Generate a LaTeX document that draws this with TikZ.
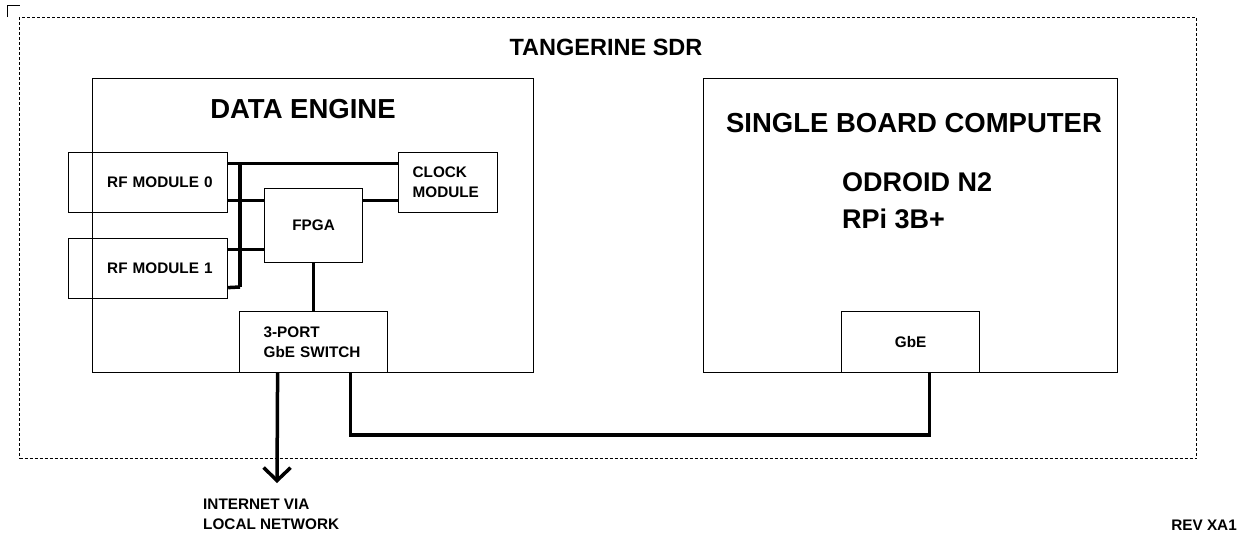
\documentclass[tikz,border=0pt]{standalone}
\usepackage{fontspec}
\setmainfont{Liberation Sans}
\usepackage{tikz}
\usetikzlibrary{arrows.meta, positioning, calc}
\tikzset{
  % Dashed outline round the whole unit
  sdrframe/.style={
    rectangle, draw, line width=1pt, dash pattern=on 3pt off 2pt,
    anchor=north west, inner sep=0pt
  },
  % Plain block, size given where it is used
  blk/.style={
    rectangle, draw, line width=1.2pt,
    anchor=north west, inner sep=0pt,
    font=\fontsize{15.3}{20}\selectfont\bfseries
  },
  head/.style={font=\fontsize{27.5}{36}\selectfont\bfseries, inner sep=0pt, anchor=base},
  note/.style={font=\fontsize{15.3}{20}\selectfont\bfseries, inner sep=0pt, align=left},
  % Thick wiring
  bus/.style={line width=3.5pt, line join=miter},
  net/.style={line width=3.5pt, -{Straight Barb[length=13pt, width=27pt]}}
}
\begin{document}
\begin{tikzpicture}[x=1pt, y=-1pt]
  \useasboundingbox (0,0) rectangle (1239,541);

  \draw[line width=1pt] (7,17) -- (7,5) -- (20,5);

  %% ── Tangerine SDR ──────────────────────────────────────────────────────
  \node[sdrframe, minimum width=1177pt, minimum height=441pt] (sdr) at (19,17) {};
  \node[head, font=\fontsize{23.5}{28}\selectfont\bfseries] (sdrtitle) at (606,55) {TANGERINE SDR};

  %% ── Data engine ────────────────────────────────────────────────────────
  \node[blk, minimum width=441pt, minimum height=294pt] (de) at (92,78) {};
  \node[head] (detitle) at (303,118) {DATA ENGINE};

  \node[blk, minimum width=159pt, minimum height=60pt, text width=129pt, inner xsep=15pt, align=right]
    (rf0) at (68,152) {RF MODULE 0};
  \node[blk, minimum width=159pt, minimum height=60pt, text width=129pt, inner xsep=15pt, align=right]
    (rf1) at (68,238) {RF MODULE 1};
  \node[blk, minimum width=99pt, minimum height=60pt, text width=71pt, inner xsep=14pt, align=left]
    (clk) at (398,152) {CLOCK\\MODULE};
  \node[blk, minimum width=98pt, minimum height=74pt] (fpga) at (264,188) {FPGA};
  \node[blk, minimum width=148pt, minimum height=61pt, text width=100pt, inner xsep=24pt, align=left]
    (sw) at (239,311) {3-PORT\\GbE SWITCH};

  \coordinate (bustop) at (240,163);
  \coordinate (busbot) at (240,287);

  \draw[bus] ([yshift=19pt]rf0.east)  -- ([yshift=19pt]clk.west);
  \draw[bus] ([yshift=-18pt]rf0.east) -- ([yshift=25pt]fpga.west);
  \draw[bus] ([yshift=19pt]rf1.east)  -- ([yshift=-24pt]fpga.west);
  \draw[bus] ([yshift=-19pt]rf1.east) -- (busbot);
  \draw[bus] (bustop) -- (busbot);
  \draw[bus] ([yshift=25pt]fpga.east) -- ([yshift=-18pt]clk.west);
  \draw[bus] (fpga.south) -- (sw.north);

  %% ── Single board computer ──────────────────────────────────────────────
  \node[blk, minimum width=414pt, minimum height=294pt] (sbc) at (703,78) {};
  \node[head] (sbctitle) at (914,132) {SINGLE BOARD COMPUTER};
  \node[anchor=north west, inner sep=0pt, align=left, font=\fontsize{27}{37}\selectfont\bfseries]
    (board) at (842,172) {ODROID N2\\RPi 3B+};
  \node[blk, minimum width=138pt, minimum height=61pt] (gbe) at (841,311) {GbE};

  %% ── Links ──────────────────────────────────────────────────────────────
  \coordinate (inet) at (277,483);
  \draw[net] ([xshift=-36pt]sw.south) -- (inet);
  \draw[bus] ([xshift=37pt]sw.south) -- ++(0,62) -| ([xshift=19pt]gbe.south);

  \node[note, anchor=north west] (lan) at (203,499) {INTERNET VIA\\LOCAL NETWORK};
  \node[note, anchor=base east] (rev) at (1237,530) {REV XA1};

\end{tikzpicture}
\end{document}
